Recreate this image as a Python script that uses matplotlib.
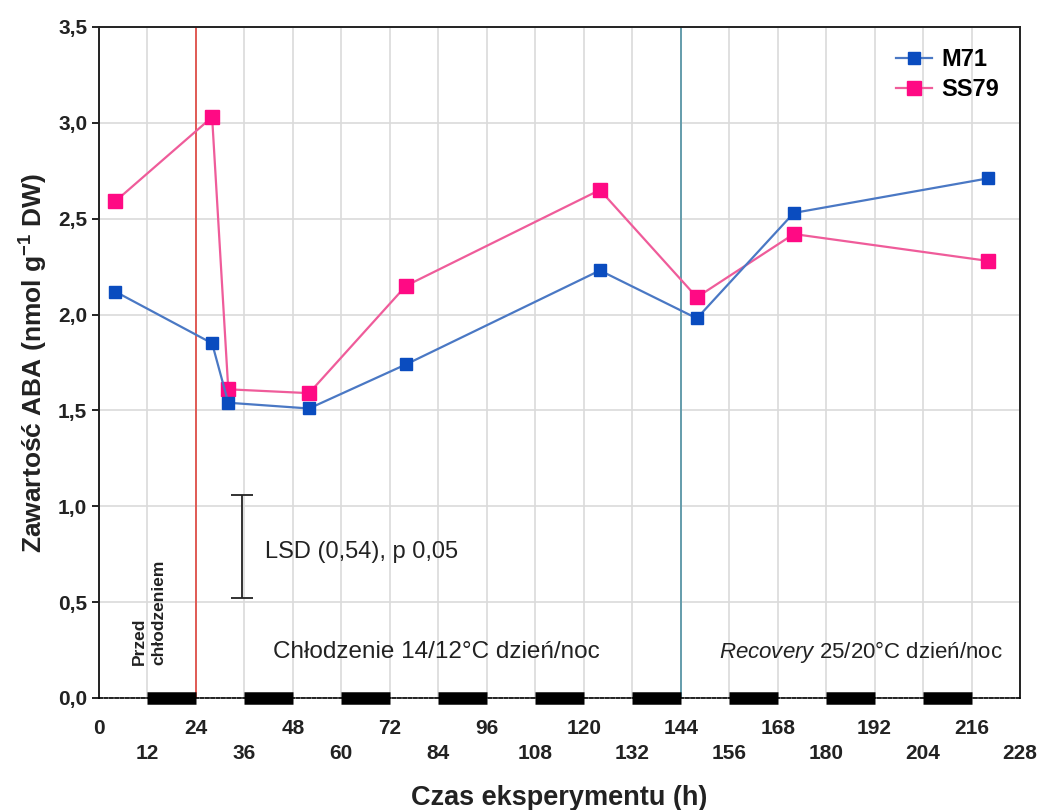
import numpy as np
import matplotlib.pyplot as plt
from matplotlib.ticker import FixedLocator, FuncFormatter

plt.rcParams['font.family'] = ['Liberation Sans', 'DejaVu Sans']
plt.rcParams['mathtext.fontset'] = 'custom'
plt.rcParams['mathtext.rm'] = 'Liberation Sans'
plt.rcParams['mathtext.it'] = 'Liberation Sans:italic'
plt.rcParams['mathtext.bf'] = 'Liberation Sans:bold'

# sampling times (h) and ABA content (nmol g-1 DW)
hours = [4, 28, 32, 52, 76, 124, 148, 172, 220]
m71 = [2.12, 1.85, 1.54, 1.51, 1.74, 2.23, 1.98, 2.53, 2.71]
ss79 = [2.59, 3.03, 1.61, 1.59, 2.15, 2.65, 2.09, 2.42, 2.28]

# night periods (start, end) in hours
nights = [(12, 24), (36, 48), (60, 72), (84, 96), (108, 120),
          (132, 144), (156, 168), (180, 192), (204, 216)]

lsd = 0.54
lsd_center = 0.79
cooling_start = 24
recovery_start = 144

fig = plt.figure(figsize=(10.51, 8.10), dpi=100)
ax = fig.add_axes([0.0942, 0.1383, 0.8763, 0.8284])

ax.set_xlim(0, 228)
ax.set_ylim(0, 3.5)

# grid
ax.xaxis.set_major_locator(FixedLocator(np.arange(0, 217, 24)))
ax.xaxis.set_minor_locator(FixedLocator(np.arange(12, 229, 24)))
ax.set_yticks(np.arange(0, 3.51, 0.5))
ax.grid(True, which="both", axis="x", color="#dadada", lw=1.2, zorder=0)
ax.grid(True, which="major", axis="y", color="#dadada", lw=1.2, zorder=0)
ax.set_axisbelow(True)

# phase boundaries
ax.axvline(cooling_start, color="#e0504a", lw=1.3, zorder=1)
ax.axvline(recovery_start, color="#5b97a8", lw=1.3, zorder=1)

# series
ax.plot(hours, m71, color="#4a78c4", lw=1.6, marker="s", ms=9,
        mfc="#0a4cbf", mec="#0a4cbf", label="M71", zorder=4)
ax.plot(hours, ss79, color="#ef5c9a", lw=1.6, marker="s", ms=10.5,
        mfc="#ff0a84", mec="#ff0a84", label="SS79", zorder=3)

# night bars on the time axis
for start, end in nights:
    ax.plot([start, end], [0, 0], color="black", lw=9,
            solid_capstyle="butt", zorder=5, clip_on=False)

# LSD bar
ax.errorbar([35.5], [lsd_center], yerr=[lsd / 2], color="#222222",
            lw=1.3, capsize=8, capthick=1.3, zorder=4)
ax.text(41, lsd_center - 0.03, "LSD (0,54), p 0,05", fontsize=17,
        va="center", ha="left", color="#222222")

ax.text(12.4, 0.17, "Przed\nchłodzeniem", rotation=90, fontsize=12.5,
        fontweight="bold", ha="center", va="bottom", multialignment="left",
        color="#222222", linespacing=1.45)
ax.text(83.5, 0.24, "Chłodzenie 14/12°C dzień/noc", fontsize=17.5,
        ha="center", va="center", color="#222222")
ax.text(153.5, 0.24, "$\\mathit{Recovery}$ 25/20°C dzień/noc", fontsize=16,
        ha="left", va="center", color="#222222")

# frame
for side in ["top", "right", "left"]:
    ax.spines[side].set_linewidth(1.4)
    ax.spines[side].set_color("#222222")
ax.spines["bottom"].set_linestyle((0, (2, 1.2)))
ax.spines["bottom"].set_linewidth(1.2)

ax.tick_params(axis="x", which="major", length=0, pad=15, labelsize=15)
ax.tick_params(axis="x", which="minor", length=0, pad=33, labelsize=15)
ax.tick_params(axis="y", length=5, width=1.2, labelsize=15, direction="out")
ax.xaxis.set_major_formatter(FuncFormatter(lambda v, p: f"{v:.0f}"))
ax.xaxis.set_minor_formatter(FuncFormatter(lambda v, p: f"{v:.0f}"))
ax.yaxis.set_major_formatter(FuncFormatter(lambda v, p: f"{v:.1f}".replace(".", ",")))
for lbl in ax.get_xticklabels(which="both") + ax.get_yticklabels():
    lbl.set_fontweight("bold")
    lbl.set_color("#222222")

ax.set_xlabel("Czas eksperymentu (h)", fontsize=19.5, fontweight="bold",
              color="#222222", labelpad=16)
ax.set_ylabel("Zawartość ABA (nmol g$^{\\mathbf{-1}}$ DW)", fontsize=19,
              fontweight="bold", color="#222222", labelpad=6)

leg = ax.legend(loc="upper right", bbox_to_anchor=(1.0, 1.0), frameon=False,
                prop={"weight": "bold", "size": 17}, handlelength=1.5,
                handletextpad=0.4, labelspacing=0.3)

fig.savefig("out.png", dpi=100)
